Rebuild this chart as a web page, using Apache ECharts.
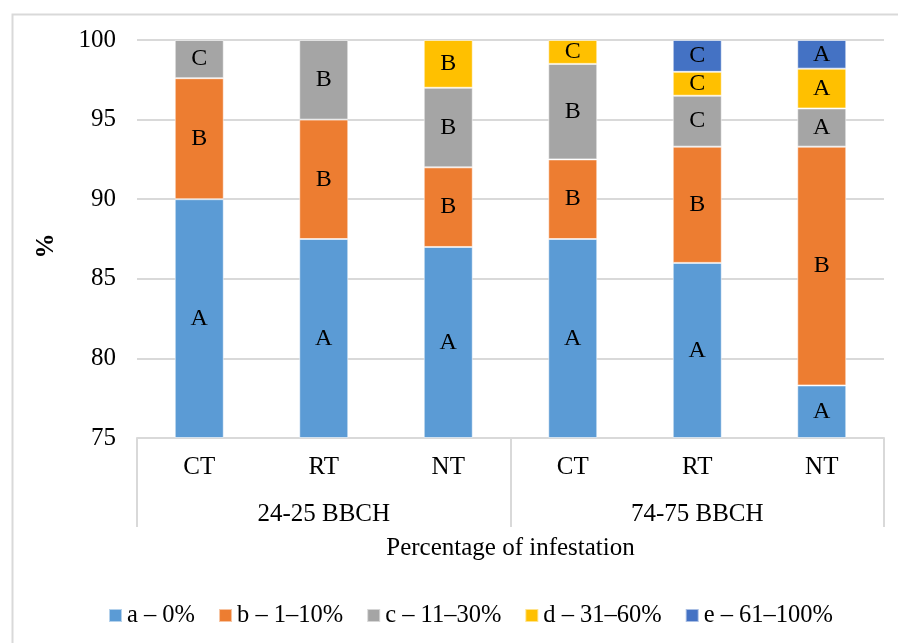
<!DOCTYPE html>
<html>
<head>
<meta charset="utf-8">
<script src="https://cdn.jsdelivr.net/npm/echarts@6/dist/echarts.min.js"></script>
<style>
  html, body { margin: 0; padding: 0; background: #fff; }
  #chart { width: 898px; height: 643px; }
</style>
</head>
<body>
<div id="chart"></div>
<script>
// Categories: tillage system within each growth stage
const treatments = ['CT', 'RT', 'NT', 'CT', 'RT', 'NT'];
const stages = ['24-25 BBCH', '74-75 BBCH'];

// Share of plants (%) in each infestation class
const classA = [90, 87.5, 87, 87.5, 86, 78.3];
const classB = [7.6, 7.5, 5, 5, 7.3, 15.0];
const classC = [2.4, 5, 5, 6, 3.2, 2.4];
const classD = [0, 0, 3, 1.5, 1.5, 2.5];
const classE = [0, 0, 0, 0, 2, 1.8];

// Significance letters shown inside each segment
const lettersA = ['A', 'A', 'A', 'A', 'A', 'A'];
const lettersB = ['B', 'B', 'B', 'B', 'B', 'B'];
const lettersC = ['C', 'B', 'B', 'B', 'C', 'A'];
const lettersD = ['', '', 'B', 'C', 'C', 'A'];
const lettersE = ['', '', '', '', 'C', 'A'];

const classNames = ['a – 0%', 'b – 1–10%', 'c – 11–30%', 'd – 31–60%', 'e – 61–100%'];
const colors = ['#5B9BD5', '#ED7D31', '#A5A5A5', '#FFC000', '#4472C4'];

// Axis range
const yMin = 75, yMax = 100, yStep = 5;

const FONT = '"Liberation Serif", "Times New Roman", serif';
const AXIS_FONT = 25;

// Bars start at the bottom of the visible range; an invisible base fills up to it
const baseline = classA.map(() => yMin);
const visibleA = classA.map(v => v - yMin);

function segment(name, values, letters, color) {
  return {
    name: name,
    type: 'bar',
    stack: 'total',
    barWidth: 49,
    xAxisIndex: 0,
    itemStyle: { color: color, borderColor: 'rgba(255,255,255,0.55)', borderWidth: 1 },
    label: {
      show: true,
      position: 'inside',
      fontFamily: FONT,
      fontSize: 24,
      color: '#000',
      formatter: p => letters[p.dataIndex]
    },
    data: values.map(v => (v > 0 ? v : null))
  };
}

const chart = echarts.init(document.getElementById('chart'), null, { renderer: 'canvas' });

chart.setOption({
  animation: false,
  backgroundColor: '#fff',
  textStyle: { fontFamily: FONT },
  grid: { left: 137, right: 14, top: 40, bottom: 205, containLabel: false },
  graphic: [{
    type: 'rect',
    left: 10, top: 12,
    shape: { width: 1000, height: 1000 },
    style: { fill: 'none', stroke: '#D9D9D9', lineWidth: 2 },
    silent: true
  }],
  legend: {
    left: 103,
    top: 598,
    icon: 'rect',
    itemWidth: 13,
    itemHeight: 13,
    itemGap: 23,
    textStyle: { fontFamily: FONT, fontSize: 24.5, color: '#000' },
    data: classNames
  },
  xAxis: [{
    type: 'category',
    data: treatments,
    position: 'bottom',
    axisLine: { lineStyle: { color: '#D9D9D9', width: 2 } },
    axisTick: { show: false },
    axisLabel: { fontFamily: FONT, fontSize: AXIS_FONT, color: '#000', margin: 17 },
    name: 'Percentage of infestation',
    nameLocation: 'middle',
    nameGap: 98,
    nameTextStyle: { fontFamily: FONT, fontSize: AXIS_FONT, color: '#000' }
  }, {
    type: 'category',
    data: stages,
    position: 'bottom',
    axisLine: { show: false },
    axisTick: { show: true, length: 89, interval: 0, lineStyle: { color: '#D9D9D9', width: 2 } },
    axisLabel: { fontFamily: FONT, fontSize: AXIS_FONT, color: '#000', margin: 64 },
    splitLine: { show: false }
  }],
  yAxis: {
    type: 'value',
    min: yMin,
    max: yMax,
    interval: yStep,
    axisLine: { show: false },
    axisTick: { show: false },
    splitLine: { lineStyle: { color: '#D9D9D9', width: 2 } },
    axisLabel: { fontFamily: FONT, fontSize: AXIS_FONT, color: '#000', margin: 21 },
    name: '%',
    nameLocation: 'middle',
    nameGap: 78,
    nameTextStyle: { fontFamily: FONT, fontSize: AXIS_FONT, fontWeight: 'bold', color: '#000', padding: [0, 14, 0, 0] }
  },
  series: [
    {
      name: 'base',
      type: 'bar',
      stack: 'total',
      barWidth: 49,
      silent: true,
      itemStyle: { color: 'rgba(0,0,0,0)' },
      label: { show: false },
      data: baseline
    },
    segment(classNames[0], visibleA, lettersA, colors[0]),
    segment(classNames[1], classB, lettersB, colors[1]),
    segment(classNames[2], classC, lettersC, colors[2]),
    segment(classNames[3], classD, lettersD, colors[3]),
    segment(classNames[4], classE, lettersE, colors[4])
  ]
});
</script>
</body>
</html>
